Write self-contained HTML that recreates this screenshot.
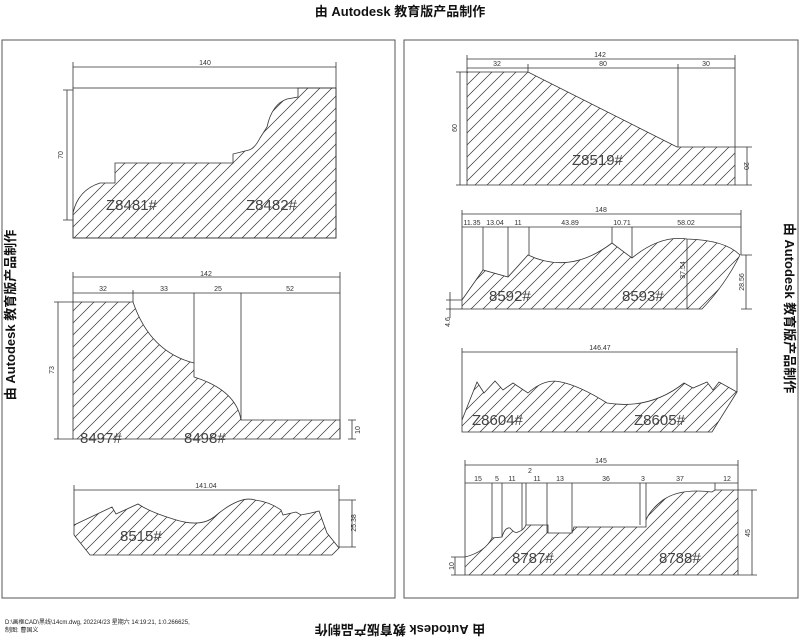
<!DOCTYPE html>
<html><head><meta charset="utf-8"><style>
body{margin:0;background:#fff;}
svg{display:block;}
text{font-family:"Liberation Sans","Noto Sans CJK SC",sans-serif;}
.d{font-size:7px;fill:#333;}
.lb{font-family:"DejaVu Sans Mono","Liberation Mono",monospace;font-size:15px;fill:#444;}
.hd{font-size:13px;font-weight:bold;fill:#111;}
</style></head><body>
<svg width="800" height="640" viewBox="0 0 800 640" xmlns="http://www.w3.org/2000/svg">
<defs>
<pattern id="h" width="12" height="12" patternUnits="userSpaceOnUse">
<path d="M0,12 L12,0 M-3,3 L3,-3 M9,15 L15,9" stroke="#333" stroke-width="0.7"/>
</pattern>
</defs>
<text class="hd" x="400" y="16" text-anchor="middle">由 Autodesk 教育版产品制作</text>
<text class="hd" x="400" y="631" text-anchor="middle" transform="rotate(180 400 628)">由 Autodesk 教育版产品制作</text>
<text class="hd" x="10" y="315" text-anchor="middle" transform="rotate(-90 10 315)" dy="5">由 Autodesk 教育版产品制作</text>
<text class="hd" x="790" y="308" text-anchor="middle" transform="rotate(90 790 308)" dy="5">由 Autodesk 教育版产品制作</text>
<text x="5" y="624" style="font-size:6px" fill="#222">D:\画框CAD\黑线\14cm.dwg, 2022/4/23 星期六 14:19:21, 1:0.266625,</text>
<text x="5" y="632" style="font-size:6px" fill="#222">制图: 曹国义</text>

<g fill="none" stroke="#555" stroke-width="1">
<rect x="2" y="40" width="393" height="558"/>
<rect x="404" y="40" width="394" height="558"/>
</g>

<g stroke="#333" stroke-width="0.8" fill="none">
<rect x="73" y="88" width="263" height="150"/>
<path fill="url(#h)" d="M298,88 L298,97 L287,99 Q272,104 267,127 L260,138 Q255,148 249,150 L233,154 L233,163 L115,163 L115,183 L100,183 Q78,190 73,213 L73,238 L336,238 L336,88 Z"/>
<path d="M73,88 V62 M336,88 V62 M73,67 H336 M67,90 V220 M63,90 H73 M63,220 H73"/>

<path fill="url(#h)" d="M73,302 L133,302 Q150,352 194,363 L194,377 Q236,390 241,420 L340,420 L340,439 L73,439 Z"/>
<path d="M194,293 V363 M241,293 V420 M340,272 V439 M73,272 V302 M133,290 V302 M73,277 H340 M73,293 H340 M58,302 V439 M54,302 H73 M54,439 H73 M348,420 H356 M348,439 H356 M352,420 V439"/>

<path fill="url(#h)" d="M74,525 L112,507 L116,514 L138,504 Q150,512 173,519 Q200,528 214,517 Q240,495 255,500 Q270,502 281,510 L283,515 L296,512 L301,515 L311,513 L319,511 L327,533 L339,548 L332,555 L90,555 L74,535 Z"/>
<path d="M74,490 H339 M74,485 V525 M339,485 V548 M339,500 H356 M339,547 H356 M352,500 V547"/>

<path fill="url(#h)" d="M467,72 L528,72 L677,147 L735,147 L735,185 L467,185 Z"/>
<path d="M467,59 H735 M467,68 H735 M467,55 V72 M528,64 V72 M678,64 V147 M735,55 V147 M460,72 V185 M456,72 H467 M456,185 H467 M735,147 H752 M735,185 H752 M747,147 V185"/>

<path fill="url(#h)" d="M462,300 L483,270 L508,277 L528,255 Q570,275 612,243 L632,258 Q660,235 687,239 Q725,240 740,255 Q725,285 702,309 L462,309 Z"/>
<path d="M462,214 H741 M462,227 H741 M462,210 V300 M741,210 V255 M483,227 V270 M508,227 V277 M529,227 V255 M612,227 V243 M632,227 V258 M687,239 V309 M741,255 H752 M741,309 H752 M746,255 V309 M450,292 V318 M446,300 H462 M446,309 H462"/>

<path fill="url(#h)" d="M462,420 L477,382 L484,393 L495,381 L503,390 L513,383 L528,393 Q545,378 561,382 Q580,386 607,403 Q650,410 684,383 L693,388 L707,382 L713,390 L719,382 L737,392 L712,432 L462,432 Z"/>
<path d="M462,352 H737 M462,348 V420 M737,348 V392"/>

<path fill="url(#h)" d="M465,557 Q485,552 492,538 L502,537 Q505,527 510,528 Q515,534 518,532 Q524,530 526,525 L548,525 L548,533 L572,533 L574,527 L646,527 L646,520 Q650,510 663,500 Q680,488 712,492 L715,490 L738,490 L738,575 L465,575 Z"/>
<path d="M465,465 H738 M465,483 H738 M465,460 V557 M738,460 V490 M492,483 V538 M502,483 V537 M522,483 V530 M526,483 V525 M547,483 V533 M572,483 V533 M640,483 V525 M646,483 V520 M715,483 V490 M738,490 H757 M738,575 H757 M752,490 V575 M455,557 V575 M451,557 H465 M451,575 H465"/>
</g>

<g class="d" text-anchor="middle">
<text x="205" y="65">140</text>
<text x="63" y="155" transform="rotate(-90 63 155)">70</text>
<text x="206" y="276">142</text>
<text x="103" y="291">32</text><text x="164" y="291">33</text><text x="218" y="291">25</text><text x="290" y="291">52</text>
<text x="54" y="370" transform="rotate(-90 54 370)">73</text>
<text x="360" y="430" transform="rotate(-90 360 430)">10</text>
<text x="206" y="488">141.04</text>
<text x="356" y="523" transform="rotate(-90 356 523)">25.38</text>
<text x="600" y="57">142</text>
<text x="497" y="66">32</text><text x="603" y="66">80</text><text x="706" y="66">30</text>
<text x="457" y="128" transform="rotate(-90 457 128)">60</text>
<text x="744" y="166" transform="rotate(90 744 166)">20</text>
<text x="601" y="212">148</text>
<text x="472" y="225">11.35</text><text x="495" y="225">13.04</text><text x="518" y="225">11</text><text x="570" y="225">43.89</text><text x="622" y="225">10.71</text><text x="686" y="225">58.02</text>
<text x="685" y="270" transform="rotate(-90 685 270)">37.54</text>
<text x="744" y="282" transform="rotate(-90 744 282)">28.56</text>
<text x="450" y="322" transform="rotate(-90 450 322)">4.6</text>
<text x="600" y="350">146.47</text>
<text x="601" y="463">145</text>
<text x="478" y="481">15</text><text x="497" y="481">5</text><text x="512" y="481">11</text><text x="530" y="473">2</text><text x="537" y="481">11</text><text x="560" y="481">13</text><text x="606" y="481">36</text><text x="643" y="481">3</text><text x="680" y="481">37</text><text x="727" y="481">12</text>
<text x="750" y="533" transform="rotate(-90 750 533)">45</text>
<text x="454" y="566" transform="rotate(-90 454 566)">10</text>
</g>

<g class="lb">
<text x="106" y="210">Z8481#</text>
<text x="246" y="210">Z8482#</text>
<text x="80" y="443">8497#</text>
<text x="184" y="443">8498#</text>
<text x="120" y="541">8515#</text>
<text x="572" y="165">Z8519#</text>
<text x="489" y="301">8592#</text>
<text x="622" y="301">8593#</text>
<text x="472" y="425">Z8604#</text>
<text x="634" y="425">Z8605#</text>
<text x="512" y="563">8787#</text>
<text x="659" y="563">8788#</text>
</g>
</svg>
</body></html>
